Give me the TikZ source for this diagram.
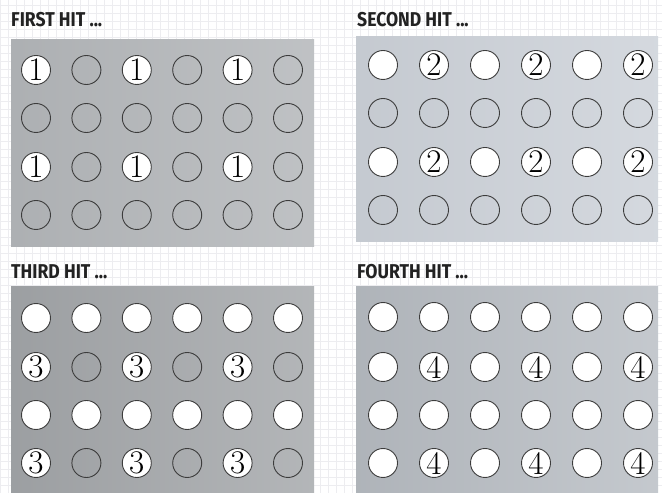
\documentclass[tikz,border=0pt]{standalone}
\usepackage{fontspec}
\newfontfamily\headfont{Fira Sans}[FakeStretch=0.88]
\usepackage{tikz}
\usetikzlibrary{positioning}
\definecolor{mink}{HTML}{222222}
\definecolor{mring}{HTML}{3C3C3C}
\definecolor{mgrid}{HTML}{EDEDF0}
\definecolor{mpanelA}{HTML}{B4B7BA}
\definecolor{mpanelB}{HTML}{CDD2D9}
\definecolor{mpanelC}{HTML}{A6A9AC}
\definecolor{mpanelD}{HTML}{BABFC5}
\tikzset{
  head/.style={font=\headfont\bfseries\fontsize{20}{20}\selectfont, text=mink,
               anchor=west, inner sep=0pt},
  hole/.style={circle, draw=mring, line width=0.9pt, minimum size=29pt,
               inner sep=0pt, node contents={}},
  lit/.style={hole, fill=white},
  numbered/.style={lit, font=\fontsize{33}{33}\selectfont},
  panel/.style={shading angle=60},
}

\begin{document}
\begin{tikzpicture}[x=1pt, y=1pt]
  \useasboundingbox (0,0) rectangle (662,493);
  \fill[white] (0,0) rectangle (662,493);
  \draw[mgrid, line width=0.3pt, step=8] (0,0) grid (662,493);

  % first hit
  \shade[panel, left color=mpanelA!96!black, right color=mpanelA!85!white] (11,246) rectangle (314,453);
  \node[head] (h1) at (11,473) {FIRST HIT ...};
  \begin{scope}[hit/.style={numbered, node contents=1}]
    \foreach \y/\row [count=\r] in {423/{hit,hole,hit,hole,hit,hole},
                                    375/{hole,hole,hole,hole,hole,hole},
                                    326/{hit,hole,hit,hole,hit,hole},
                                    278/{hole,hole,hole,hole,hole,hole}}
      \foreach \s [count=\k] in \row
        \node (a-\r-\k) at ({36+50.4*(\k-1)},\y) [\s];
  \end{scope}

  % second hit
  \shade[panel, left color=mpanelB!96!black, right color=mpanelB!85!white] (356,251) rectangle (658,456);
  \node[head] (h2) at (357,473) {SECOND HIT ...};
  \begin{scope}[hit/.style={numbered, node contents=2}]
    \foreach \y/\row [count=\r] in {428/{lit,hit,lit,hit,lit,hit},
                                    380/{hole,hole,hole,hole,hole,hole},
                                    331/{lit,hit,lit,hit,lit,hit},
                                    283/{hole,hole,hole,hole,hole,hole}}
      \foreach \s [count=\k] in \row
        \node (b-\r-\k) at ({383+51*(\k-1)},\y) [\s];
  \end{scope}

  % third hit
  \shade[panel, left color=mpanelC!94!black, right color=mpanelC!85!white] (11,0) rectangle (314,206);
  \node[head] (h3) at (11,221) {THIRD HIT ...};
  \begin{scope}[hit/.style={numbered, node contents=3}]
    \foreach \y/\row [count=\r] in {175/{lit,lit,lit,lit,lit,lit},
                                    126/{hit,hole,hit,hole,hit,hole},
                                    78/{lit,lit,lit,lit,lit,lit},
                                    30/{hit,hole,hit,hole,hit,hole}}
      \foreach \s [count=\k] in \row
        \node (c-\r-\k) at ({36+50.4*(\k-1)},\y) [\s];
  \end{scope}

  % fourth hit
  \shade[panel, left color=mpanelD!94!black, right color=mpanelD!85!white] (356,0) rectangle (658,206);
  \node[head] (h4) at (357,221) {FOURTH HIT ...};
  \begin{scope}[hit/.style={numbered, node contents=4}]
    \foreach \y/\row [count=\r] in {176/{lit,lit,lit,lit,lit,lit},
                                    126/{lit,hit,lit,hit,lit,hit},
                                    78/{lit,lit,lit,lit,lit,lit},
                                    30/{lit,hit,lit,hit,lit,hit}}
      \foreach \s [count=\k] in \row
        \node (d-\r-\k) at ({383+51*(\k-1)},\y) [\s];
  \end{scope}
\end{tikzpicture}
\end{document}
